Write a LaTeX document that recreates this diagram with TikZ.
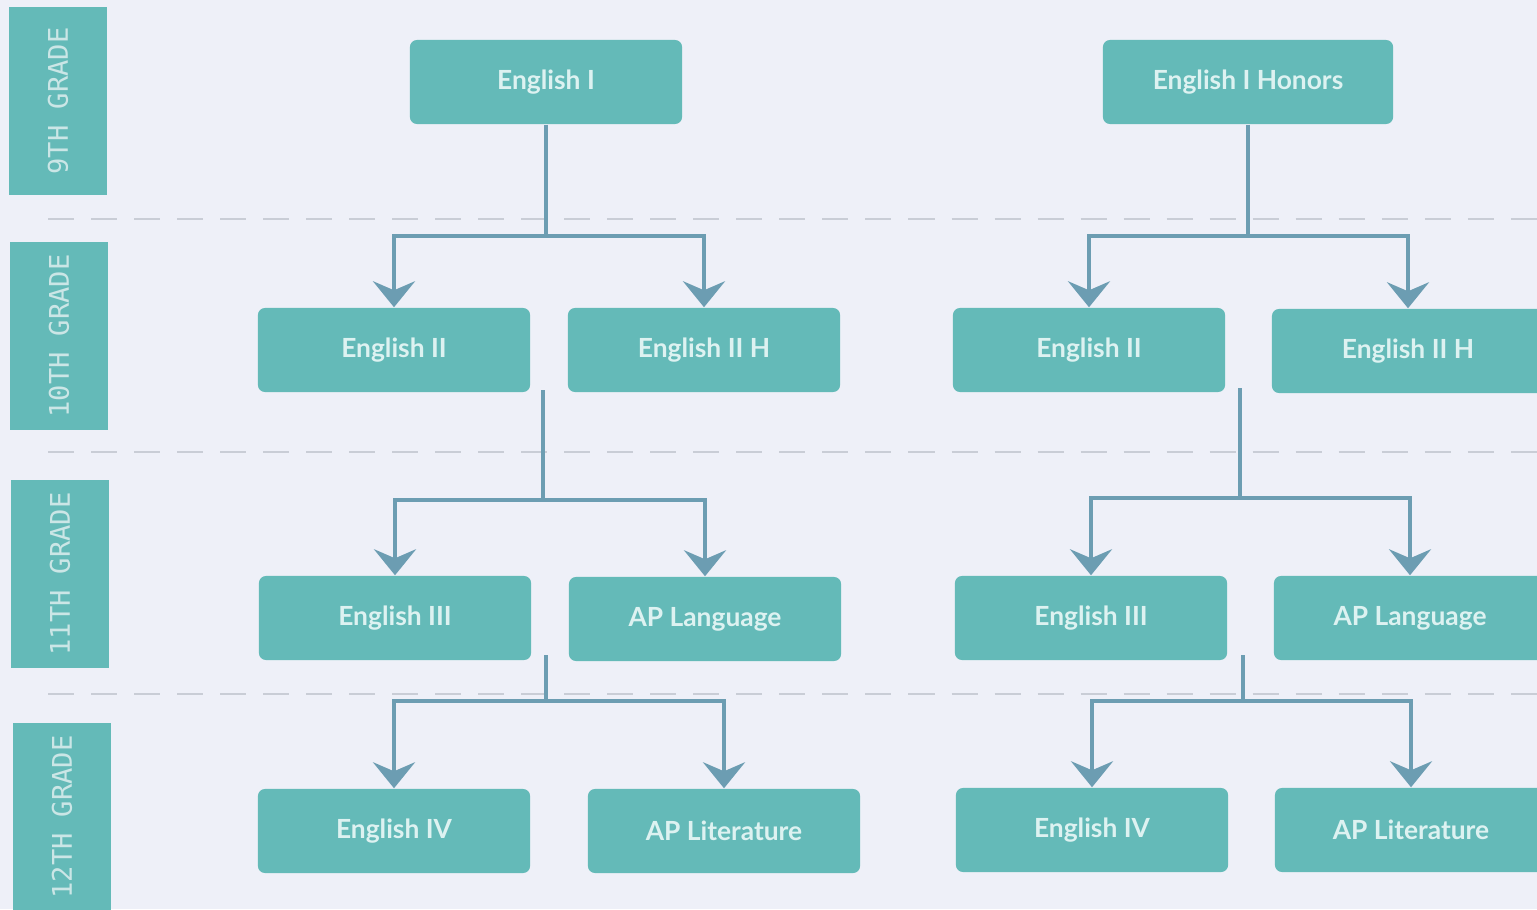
\documentclass[tikz,border=0pt]{standalone}
\usepackage{fontspec}
\setmainfont{Lato}
\newfontfamily\gradefont{DejaVu Sans Mono}
\usepackage{tikz}
\usetikzlibrary{arrows.meta}

\definecolor{pagebg}{HTML}{EEF0F8}
\definecolor{boxfill}{HTML}{64BAB8}
\definecolor{boxtext}{HTML}{DDF2F1}
\definecolor{gradetext}{HTML}{CBE6E6}
\definecolor{linkcol}{HTML}{6C9DB2}
\definecolor{dashcol}{HTML}{C9CDD6}

\begin{document}
\begin{tikzpicture}[x=0.01cm, y=-0.01cm,
    course/.style={rectangle, rounded corners=2pt, fill=boxfill, text=boxtext,
        minimum width=2.72cm, minimum height=0.84cm, font=\bfseries\fontsize{7.5}{9}\selectfont},
    grade/.style={rectangle, fill=boxfill, text=gradetext, rotate=90,
        minimum width=1.88cm, minimum height=0.97cm, font=\gradefont\fontsize{7.7}{9}\selectfont},
    link/.style={draw=linkcol, line width=1.1pt},
    arrow/.style={link, -{Stealth[length=0.26cm, width=0.42cm, inset=0.09cm]}}]

        % Page
        \fill[pagebg] (0,0) rectangle (1537,909);
        \useasboundingbox (0,0) rectangle (1537,909);

        % Grade dividers
        \draw[dashcol, line width=0.6pt, dash pattern=on 0.26cm off 0.17cm] (48,219) -- (1537,219);
        \draw[dashcol, line width=0.6pt, dash pattern=on 0.26cm off 0.17cm] (48,452) -- (1537,452);
        \draw[dashcol, line width=0.6pt, dash pattern=on 0.26cm off 0.17cm] (48,694) -- (1537,694);

        % Grade labels
        \node[grade] (g9) at (58,101) {9TH GRADE};
        \node[grade] (g10) at (59,336) {10TH GRADE};
        \node[grade] (g11) at (60,574) {11TH GRADE};
        \node[grade] (g12) at (62,817) {12TH GRADE};

        % 9th grade
        \node[course] (engI) at (546,82) {English I};
        \node[course, minimum width=2.9cm] (engIH) at (1248,82) {English I Honors};

        % 10th grade
        \node[course] (engIIa) at (394,350) {English II};
        \node[course] (engIIHa) at (704,350) {English II H};
        \node[course] (engIIb) at (1089,350) {English II};
        \node[course] (engIIHb) at (1408,351) {English II H};

        % 11th grade
        \node[course] (engIIIa) at (395,618) {English III};
        \node[course] (aplangA) at (705,619) {AP Language};
        \node[course] (engIIIb) at (1091,618) {English III};
        \node[course] (aplangB) at (1410,618) {AP Language};

        % 12th grade
        \node[course] (engIVa) at (394,831) {English IV};
        \node[course] (aplitA) at (724,831) {AP Literature};
        \node[course] (engIVb) at (1092,830) {English IV};
        \node[course] (aplitB) at (1411,830) {AP Literature};

        % Junctions
        \coordinate (jA1) at (546,236);
        \coordinate (jB1) at (1248,236);
        \coordinate (sA2) at (543,390);
        \coordinate (jA2) at (543,500);
        \coordinate (sB2) at (1240,388);
        \coordinate (jB2) at (1240,498);
        \coordinate (sA3) at (546,655);
        \coordinate (jA3) at (546,701);
        \coordinate (sB3) at (1243,655);
        \coordinate (jB3) at (1243,701);

        % Edges
        \draw[link] (engI.south) -- (jA1);
        \draw[arrow] (jA1) -| (engIIa.north);
        \draw[arrow] (jA1) -| (engIIHa.north);
        \draw[link] (engIH.south) -- (jB1);
        \draw[arrow] (jB1) -| (engIIb.north);
        \draw[arrow] (jB1) -| (engIIHb.north);

        \draw[link] (sA2) -- (jA2);
        \draw[arrow] (jA2) -| (engIIIa.north);
        \draw[arrow] (jA2) -| (aplangA.north);
        \draw[link] (sB2) -- (jB2);
        \draw[arrow] (jB2) -| (engIIIb.north);
        \draw[arrow] (jB2) -| (aplangB.north);

        \draw[link] (sA3) -- (jA3);
        \draw[arrow] (jA3) -| (engIVa.north);
        \draw[arrow] (jA3) -| (aplitA.north);
        \draw[link] (sB3) -- (jB3);
        \draw[arrow] (jB3) -| (engIVb.north);
        \draw[arrow] (jB3) -| (aplitB.north);
    \end{tikzpicture}
\end{document}
